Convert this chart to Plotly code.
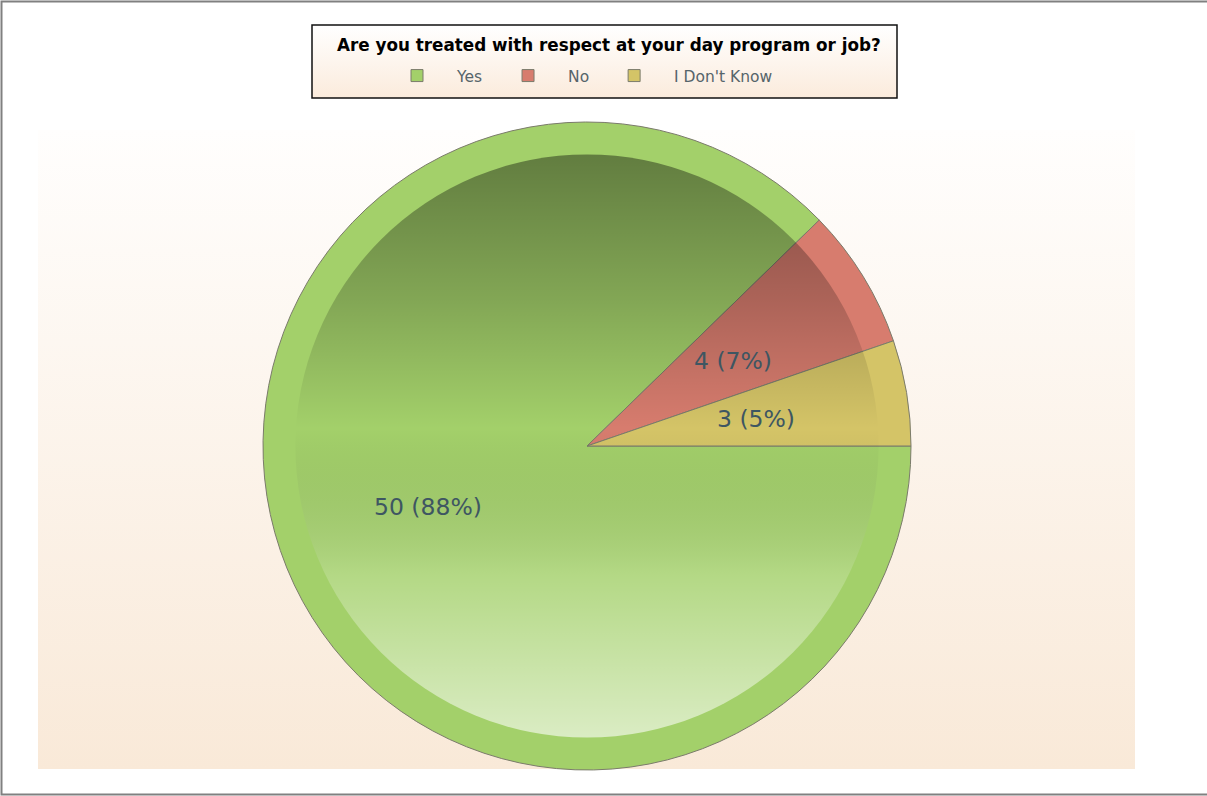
import math
import plotly.graph_objects as go
from urllib.parse import quote

# ---- data ----
labels = ["Yes", "No", "I Don't Know"]
values = [50, 4, 3]
colors = ["#a3d06a", "#d77c6e", "#d4c467"]
legend_title = "Are you treated with respect at your day program or job?"

W, H = 1207, 796
cx, cy, R = 587, 446, 324


def px(x):
    return x / W


def py(y):
    return 1 - y / H


def svg_uri(svg):
    return "data:image/svg+xml;charset=utf-8," + quote(svg)


fig = go.Figure()
fig.add_trace(go.Pie(
    labels=labels, values=values, sort=False, direction="clockwise", rotation=90,
    marker=dict(colors=colors, line=dict(color="#7b7b6b", width=1)),
    textinfo="none",
    domain=dict(x=[px(cx - R), px(cx + R)], y=[py(cy + R), py(cy - R)]),
    hoverinfo="label+value+percent",
))

# slice labels "value (percent)" placed at the middle of each slice
total = sum(values)
annotations = []
cum = 0
for v in values:
    theta = math.radians(90 + 360 * (cum + v / 2) / total)
    r = 0.53 * R
    ax = cx + r * math.sin(theta)
    ay = cy - 0.94 * r * math.cos(theta)
    annotations.append(dict(
        text=f"{v} ({round(100 * v / total)}%)", xref="paper", yref="paper",
        x=px(ax), y=py(ay), showarrow=False, xanchor="center", yanchor="middle",
        font=dict(family="DejaVu Sans, Verdana, sans-serif", size=23.5, color="#3e5662")))
    cum += v

# legend title
annotations.append(dict(
    text="<b>" + legend_title + "</b>", xref="paper", yref="paper",
    x=px(609), y=py(45), showarrow=False, xanchor="center", yanchor="middle",
    font=dict(family="DejaVu Sans, Verdana, sans-serif", size=16.8, color="black")))

# background gradient of the plot area
bg_svg = ('<svg xmlns="http://www.w3.org/2000/svg" width="100" height="100" viewBox="0 0 100 100" '
          'preserveAspectRatio="none"><defs><linearGradient id="g" x1="0" y1="0" x2="0" y2="1">'
          '<stop offset="0" stop-color="#fffefd"/><stop offset="1" stop-color="#f9e9d8"/>'
          '</linearGradient></defs><rect width="100" height="100" fill="url(#g)"/></svg>')

# legend box gradient
lg_svg = ('<svg xmlns="http://www.w3.org/2000/svg" width="100" height="100" viewBox="0 0 100 100" '
          'preserveAspectRatio="none"><defs><linearGradient id="l" x1="0" y1="0" x2="0" y2="1">'
          '<stop offset="0" stop-color="#ffffff"/><stop offset="1" stop-color="#fbebdc"/>'
          '</linearGradient></defs><rect width="100" height="100" fill="url(#l)"/></svg>')

# shading overlay on the inner disc of the pie
ov_svg = ('<svg xmlns="http://www.w3.org/2000/svg" width="200" height="200" viewBox="0 0 200 200" '
          'preserveAspectRatio="none"><defs><linearGradient id="s" x1="0" y1="0" x2="0" y2="1">'
          '<stop offset="0" stop-color="#000" stop-opacity="0.40"/>'
          '<stop offset="0.25" stop-color="#000" stop-opacity="0.20"/>'
          '<stop offset="0.47" stop-color="#000" stop-opacity="0.0"/>'
          '<stop offset="0.72" stop-color="#fff" stop-opacity="0.18"/>'
          '<stop offset="1" stop-color="#fff" stop-opacity="0.60"/>'
          '</linearGradient></defs><circle cx="100" cy="100" r="90" fill="url(#s)"/></svg>')

fig.update_layout(
    width=W, height=H,
    margin=dict(l=0, r=0, t=0, b=0),
    paper_bgcolor="white", plot_bgcolor="white",
    font=dict(family="DejaVu Sans, Verdana, sans-serif"),
    legend=dict(
        orientation="h", x=px(377), xanchor="left", y=py(76), yanchor="middle",
        bgcolor="rgba(0,0,0,0)", borderwidth=0, itemwidth=70,
        font=dict(size=15.5, color="#56646a"),
    ),
    annotations=annotations,
    images=[
        dict(source=svg_uri(bg_svg), xref="paper", yref="paper",
             x=px(38), y=py(130), sizex=(1135 - 38) / W, sizey=(769 - 130) / H,
             xanchor="left", yanchor="top", sizing="stretch", layer="below"),
        dict(source=svg_uri(lg_svg), xref="paper", yref="paper",
             x=px(312), y=py(25), sizex=(897 - 312) / W, sizey=(98 - 25) / H,
             xanchor="left", yanchor="top", sizing="stretch", layer="below"),
        dict(source=svg_uri(ov_svg), xref="paper", yref="paper",
             x=px(cx - R), y=py(cy - R), sizex=2 * R / W, sizey=2 * R / H,
             xanchor="left", yanchor="top", sizing="stretch", layer="above"),
    ],
    shapes=[
        dict(type="rect", xref="paper", yref="paper",
             x0=px(312), x1=px(897), y0=py(98), y1=py(25),
             line=dict(color="#111111", width=1.5), fillcolor="rgba(0,0,0,0)", layer="above"),
        dict(type="rect", xref="paper", yref="paper",
             x0=px(1.5), x1=px(1215), y0=py(794.5), y1=py(1.5),
             line=dict(color="#808080", width=2), fillcolor="rgba(0,0,0,0)", layer="above"),
    ],
)

fig.write_html("out.html", config={"displayModeBar": False},
               post_script="document.body.style.margin='0';")
